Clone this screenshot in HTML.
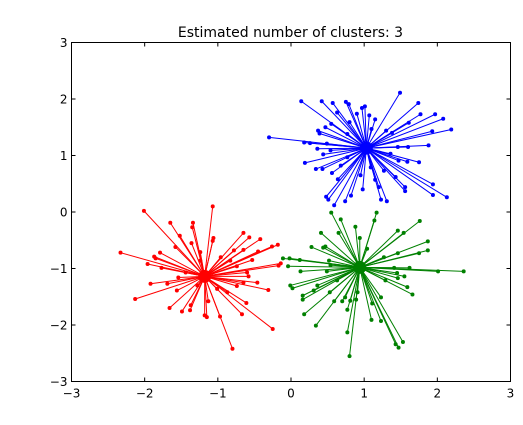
<!DOCTYPE html>
<html><head><meta charset="utf-8"><style>
html,body{margin:0;padding:0;background:#fff;}
svg{display:block;font-family:"DejaVu Sans","Liberation Sans",sans-serif;}
</style></head><body>
<svg id="chart" width="523" height="425" xmlns="http://www.w3.org/2000/svg">
<rect x="0" y="0" width="523" height="425" fill="#fff"/>
<text x="290.5" y="37" font-size="14" text-anchor="middle">Estimated number of clusters: 3</text>
<g id="marks"></g>
<rect x="71.5" y="42.5" width="439" height="339" fill="none" stroke="#000" stroke-width="1"/>
<g id="axes"></g>
</svg>
<script>
const xTicks = [-3,-2,-1,0,1,2,3];
const yTicks = [-3,-2,-1,0,1,2,3];
const clusterNames = ["blue","red","green"];
const clusterColors = ["#0000ff","#ff0000","#008000"];
const centerBlue = [1.03,1.13];
const centerRed = [-1.18,-1.14];
const centerGreen = [0.94,-0.98];
const pointsBlue = [[0.14,1.96],[0.42,1.96],[0.57,1.93],[0.75,1.95],[0.79,1.91],[0.97,1.84],[1.01,1.87],[1.49,2.11],[1.74,1.93],[1.97,1.73],[1.77,1.73],[2.08,1.65],[2.19,1.46],[1.93,1.43],[1.88,1.18],[1.60,1.15],[1.75,0.88],[1.94,0.49],[2.13,0.26],[1.94,0.30],[1.56,0.44],[1.56,0.37],[1.43,0.62],[1.31,0.19],[1.23,0.22],[1.20,0.44],[1.15,0.57],[0.98,0.40],[0.82,0.29],[0.74,0.19],[0.59,0.12],[0.51,0.22],[0.48,0.27],[0.64,0.58],[0.56,0.69],[0.34,0.76],[0.43,0.76],[0.19,0.87],[0.44,1.02],[0.36,1.12],[0.18,1.23],[-0.3,1.32],[0.26,1.22],[0.39,1.39],[0.37,1.44],[0.47,1.50],[0.55,1.56],[0.63,1.76],[0.80,1.59],[1.07,1.71],[1.15,1.64],[1.10,1.47],[1.30,1.44],[1.38,1.40],[1.61,1.58],[1.46,1.15],[1.47,0.91],[1.59,0.89],[1.36,1.03],[0.77,0.97],[0.68,0.82],[0.95,0.65],[1.09,0.79],[1.27,0.73],[0.49,1.21],[0.54,1.09],[0.90,1.74],[0.77,1.38]];
const pointsRed = [[-2.01,0.02],[-1.07,0.10],[-2.33,-0.72],[-1.65,-0.19],[-1.34,-0.19],[-1.35,-0.27],[-1.52,-0.42],[-1.58,-0.62],[-1.36,-0.55],[-1.06,-0.46],[-1.07,-0.51],[-0.65,-0.37],[-0.57,-0.45],[-0.42,-0.48],[-0.18,-0.58],[-0.26,-0.61],[-0.45,-0.70],[-0.65,-0.67],[-0.78,-0.68],[-0.14,-0.91],[-0.17,-0.95],[-0.53,-0.85],[-0.74,-0.96],[-0.58,-1.14],[-0.46,-1.25],[-0.65,-1.25],[-0.74,-1.31],[-0.31,-1.38],[-0.61,-1.61],[-0.67,-1.81],[-0.25,-2.07],[-0.80,-2.42],[-0.97,-1.85],[-1.15,-1.86],[-1.18,-1.83],[-1.13,-1.58],[-1.38,-1.74],[-1.49,-1.76],[-1.66,-1.70],[-1.37,-1.65],[-2.13,-1.54],[-1.92,-1.27],[-1.56,-1.39],[-1.54,-1.16],[-1.96,-0.92],[-1.77,-0.99],[-1.85,-0.82],[-1.87,-0.79],[-1.79,-0.72],[-1.44,-1.07],[-1.28,-1.30],[-0.87,-1.42],[-1.01,-1.36],[-1.24,-0.71],[-0.96,-0.80],[-0.83,-0.86],[-1.69,-1.27],[-0.60,-1.07],[-1.24,-0.86]];
const pointsGreen = [[0.55,-0.01],[1.17,-0.01],[0.68,-0.13],[1.14,-0.15],[1.76,-0.16],[0.88,-0.26],[0.41,-0.37],[0.65,-0.37],[0.94,-0.46],[1.46,-0.33],[1.54,-0.37],[0.28,-0.62],[0.44,-0.63],[0.47,-0.61],[1.87,-0.52],[1.87,-0.68],[1.75,-0.73],[1.46,-0.73],[-0.11,-0.82],[-0.02,-0.82],[0.12,-0.85],[-0.04,-0.96],[0.13,-1.05],[0.49,-1.05],[0.52,-0.86],[2.36,-1.05],[2.01,-1.05],[1.62,-0.99],[1.41,-0.99],[1.45,-1.08],[1.55,-1.14],[1.46,-1.17],[1.59,-1.33],[1.66,-1.46],[1.29,-1.21],[1.23,-1.51],[1.11,-1.62],[1.10,-1.91],[1.23,-1.93],[1.53,-2.30],[1.43,-2.34],[1.47,-2.40],[0.80,-2.55],[0.77,-2.13],[0.77,-1.73],[0.81,-1.57],[0.89,-1.55],[0.91,-1.42],[0.70,-1.58],[0.59,-1.58],[0.34,-2.01],[0.18,-1.81],[0.16,-1.55],[0.16,-1.48],[-0.01,-1.30],[0.02,-1.35],[0.31,-1.39],[0.53,-1.42],[0.36,-1.30],[0.63,-1.21],[0.74,-1.51],[1.04,-0.65],[1.27,-0.80],[0.54,-0.94]];

const L=71.5,R=510.5,T=42.5,B=381.5;
function sx(v){return L+(v+3)/6*(R-L);}
function sy(v){return B-(v+3)/6*(B-T);}
const NS="http://www.w3.org/2000/svg";
function mk(tag,attrs){const e=document.createElementNS(NS,tag);for(const k in attrs)e.setAttribute(k,attrs[k]);return e;}
const marks=document.getElementById('marks');
const centers=[centerBlue,centerRed,centerGreen];
const pts=[pointsBlue,pointsRed,pointsGreen];
for(let c=0;c<3;c++){
  const g=mk('g',{});
  
  
  const col=clusterColors[c],cx=sx(centers[c][0]),cy=sy(centers[c][1]);
  pts[c].forEach(p=>{
    const ln=mk('line',{x1:cx,y1:cy,x2:sx(p[0]),y2:sy(p[1]),stroke:col,'stroke-width':1});
    
    
    g.appendChild(ln);
  });
  pts[c].forEach(p=>{
    const d=mk('circle',{cx:sx(p[0]),cy:sy(p[1]),r:2,fill:col});
    
    
    g.appendChild(d);
  });
  const ce=mk('circle',{cx:cx,cy:cy,r:6.5,fill:col});
  
  
  g.appendChild(ce);
  marks.appendChild(g);
}
const axes=document.getElementById('axes');
xTicks.forEach(t=>{
  const x=sx(t);
  axes.appendChild(mk('line',{x1:x,y1:B,x2:x,y2:B-4,stroke:'#000'}));
  axes.appendChild(mk('line',{x1:x,y1:T,x2:x,y2:T+4,stroke:'#000'}));
  const tx=mk('text',{x:x,y:B+16,'font-size':12,'text-anchor':'middle'});
  tx.textContent=(t<0?'\u2212'+(-t):String(t));
  
  
  axes.appendChild(tx);
});
yTicks.forEach(t=>{
  const y=sy(t);
  axes.appendChild(mk('line',{x1:L,y1:y,x2:L+4,y2:y,stroke:'#000'}));
  axes.appendChild(mk('line',{x1:R,y1:y,x2:R-4,y2:y,stroke:'#000'}));
  const tx=mk('text',{x:L-4,y:y+4.5,'font-size':12,'text-anchor':'end'});
  tx.textContent=(t<0?'\u2212'+(-t):String(t));
  
  
  axes.appendChild(tx);
});
</script>
</body></html>
